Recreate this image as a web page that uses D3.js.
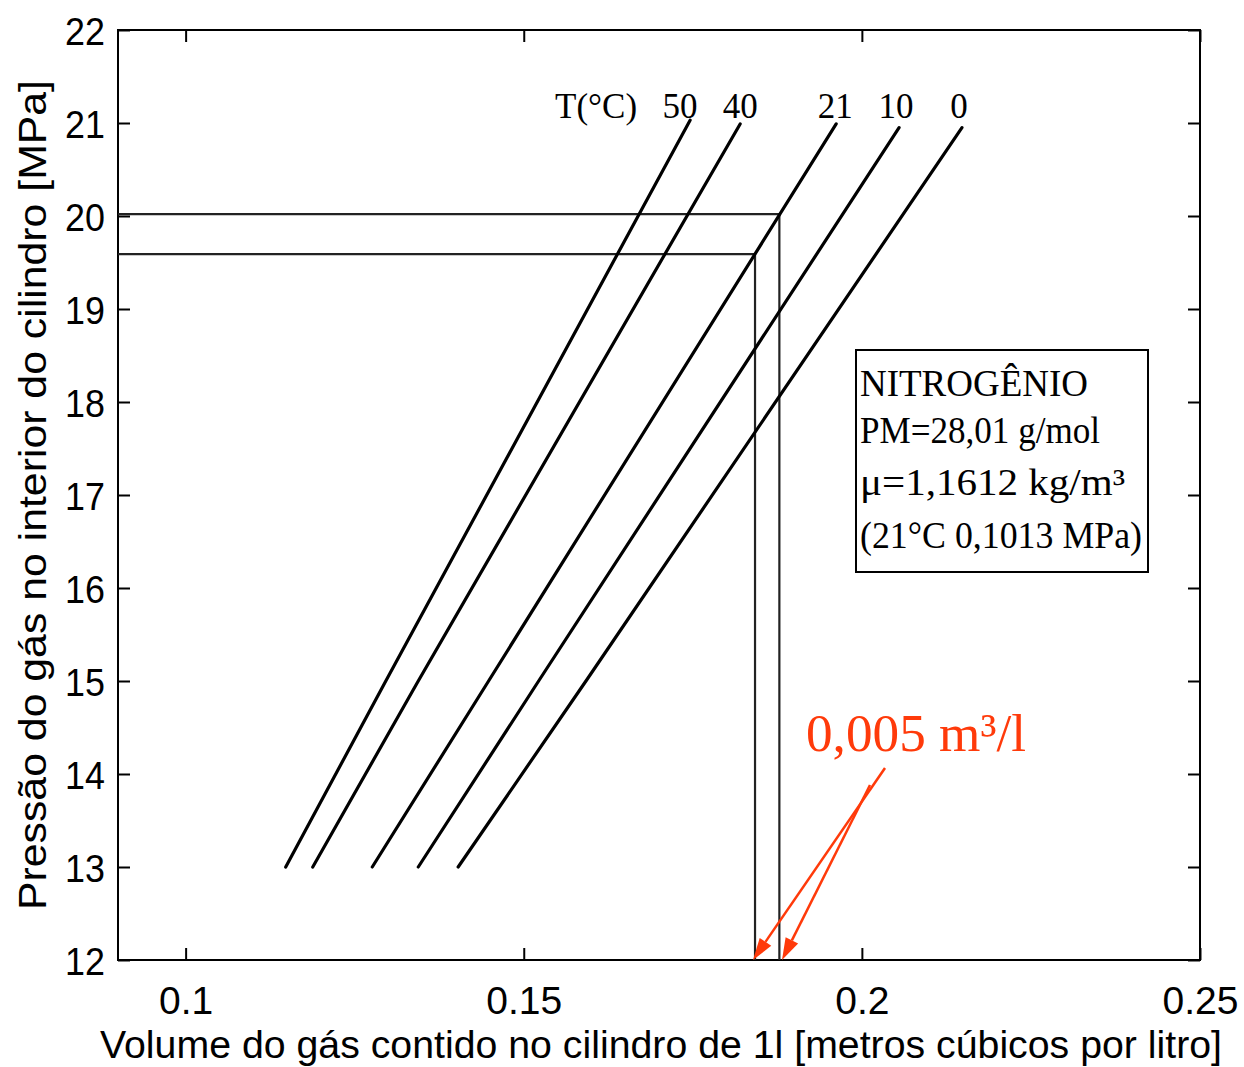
<!DOCTYPE html>
<html>
<head>
<meta charset="utf-8">
<script src="https://cdn.jsdelivr.net/npm/d3@7/dist/d3.min.js"></script>
<style>
  html, body { margin: 0; padding: 0; background: #fff; }
  svg { display: block; }
</style>
</head>
<body>
<svg id="chart" width="1244" height="1067"></svg>
<script>
// ---- Data ----
const temperatures = ["50", "40", "21", "10", "0"];
const pressures = [13, 15, 21];                         // MPa
const volume50 = [0.1148, 0.1296, 0.1746];
const volume40 = [0.1188, 0.1344, 0.1820];
const volume21 = [0.1276, 0.1448, 0.1962];
const volume10 = [0.1344, 0.1522, 0.2055];
const volume0  = [0.1403, 0.1592, 0.2148];
const topPressure = [21.03, 20.99, 20.99, 20.95, 20.95];
const xTicks = [0.1, 0.15, 0.2, 0.25];
const yTicks = [12, 13, 14, 15, 16, 17, 18, 19, 20, 21, 22];
const refPressure = [20.02, 19.59];
const refVolume = [0.1878, 0.1842];
const infoLines = ["NITROGÊNIO", "PM=28,01  g/mol", "μ=1,1612 kg/m³", "(21°C 0,1013 MPa)"];
const annotation = "0,005 m³/l";

const seriesVolumes = [volume50, volume40, volume21, volume10, volume0];

// ---- Layout ----
const svg = d3.select("#chart");
const mL = 118, mR = 1200, mT = 30, mB = 960;
const x = d3.scaleLinear().domain([0.09, 0.25]).range([mL, mR]);
const y = d3.scaleLinear().domain([12, 22]).range([mB, mT]);

const sans = "'Liberation Sans', Arial, sans-serif";
const serif = "'Liberation Serif', 'Times New Roman', serif";

// Frame
svg.append("rect").attr("x", mL).attr("y", mT)
  .attr("width", mR - mL).attr("height", mB - mT)
  .attr("fill", "none").attr("stroke", "#000").attr("stroke-width", 2);

// Axes with inward ticks
const tl = 12;
const gx = svg.append("g").attr("transform", `translate(0,${mB})`)
  .call(d3.axisBottom(x).tickValues(xTicks).tickSize(-tl).tickPadding(tl + 14)
        .tickFormat(d => String(d)));
const gxTop = svg.append("g").attr("transform", `translate(0,${mT})`)
  .call(d3.axisTop(x).tickValues(xTicks).tickSize(-tl).tickFormat(""));
const gy = svg.append("g").attr("transform", `translate(${mL},0)`)
  .call(d3.axisLeft(y).tickValues(yTicks).tickSize(-tl).tickPadding(13)
        .tickFormat(d => String(d)));
const gyR = svg.append("g").attr("transform", `translate(${mR},0)`)
  .call(d3.axisRight(y).tickValues(yTicks).tickSize(-tl).tickFormat(""));
[gx, gxTop, gy, gyR].forEach(g => {
  g.select(".domain").remove();
  g.selectAll(".tick line").attr("stroke", "#000").attr("stroke-width", 2);
  g.selectAll(".tick text").attr("fill", "#000")
    .style("font-family", sans).style("font-size", "39px");
});
gx.selectAll(".tick text").attr("dy", "0.71em");
gy.selectAll(".tick text").attr("dy", "0.36em")
  .attr("transform", "scale(0.92,1)").attr("x", -13 / 0.92);

// Reference lines (horizontal + vertical)
refPressure.forEach((p, i) => {
  const xv = x(refVolume[i]);
  svg.append("path")
    .attr("d", `M${mL},${y(p)}H${xv}V${mB}`)
    .attr("fill", "none").attr("stroke", "#222").attr("stroke-width", 2.2);
});

// Isotherms
const line = d3.line().x(d => x(d[0])).y(d => y(d[1]));
seriesVolumes.forEach((vols, i) => {
  const pts = vols.map((v, j) => [v, j === vols.length - 1 ? topPressure[i] : pressures[j]]);
  svg.append("path").attr("d", line(pts))
    .attr("fill", "none").attr("stroke", "#000").attr("stroke-width", 3.2)
    .attr("stroke-linecap", "round");
});

// Temperature labels
svg.append("text").attr("x", 555).attr("y", 118)
  .style("font-family", serif).style("font-size", "35px").text("T(°C)");
const labelDx = [-10, 0, -1, -3, -3];
seriesVolumes.forEach((vols, i) => {
  const xv = x(vols[vols.length - 1]);
  svg.append("text").attr("x", xv + labelDx[i]).attr("y", 118)
    .attr("text-anchor", "middle")
    .style("font-family", serif).style("font-size", "35px")
    .text(temperatures[i]);
});

// Info box
svg.append("rect").attr("x", 856).attr("y", 350).attr("width", 292).attr("height", 222)
  .attr("fill", "#fff").attr("stroke", "#000").attr("stroke-width", 2);
const baselines = [396, 443, 495, 548];
const lineWidths = [228, 240, 265, 282];
infoLines.forEach((t, i) => {
  svg.append("text").attr("x", 860).attr("y", baselines[i])
    .attr("textLength", lineWidths[i]).attr("lengthAdjust", "spacingAndGlyphs")
    .style("font-family", serif).style("font-size", "37px").text(t);
});

// Axis labels
svg.append("text").attr("x", 661).attr("y", 1058).attr("text-anchor", "middle")
  .attr("textLength", 1122).attr("lengthAdjust", "spacingAndGlyphs")
  .style("font-family", sans).style("font-size", "38px")
  .text("Volume do gás contido no cilindro de 1l [metros cúbicos por litro]");
svg.append("text").attr("transform", "translate(46,495) rotate(-90)")
  .attr("text-anchor", "middle")
  .attr("textLength", 830).attr("lengthAdjust", "spacingAndGlyphs")
  .style("font-family", sans).style("font-size", "38px")
  .text("Pressão do gás no interior do cilindro [MPa]");

// Red annotation
const red = "#ff3a0a";
svg.append("text").attr("x", 806).attr("y", 751)
  .attr("textLength", 220).attr("lengthAdjust", "spacingAndGlyphs")
  .attr("fill", red).style("font-family", serif).style("font-size", "53px")
  .text(annotation);
const arrows = [[885, 768, 753, 960], [870, 785, 782, 960]];
const headLen = 22, headHalf = 7;
arrows.forEach(a => {
  const dx = a[2] - a[0], dy = a[3] - a[1];
  const len = Math.hypot(dx, dy), ux = dx / len, uy = dy / len;
  const bx = a[2] - ux * headLen, by = a[3] - uy * headLen;
  svg.append("line").attr("x1", a[0]).attr("y1", a[1]).attr("x2", bx).attr("y2", by)
    .attr("stroke", red).attr("stroke-width", 2.5);
  svg.append("path")
    .attr("d", `M${a[2]},${a[3]}L${bx - uy * headHalf},${by + ux * headHalf}L${bx + uy * headHalf},${by - ux * headHalf}Z`)
    .attr("fill", red);
});
</script>
</body>
</html>
